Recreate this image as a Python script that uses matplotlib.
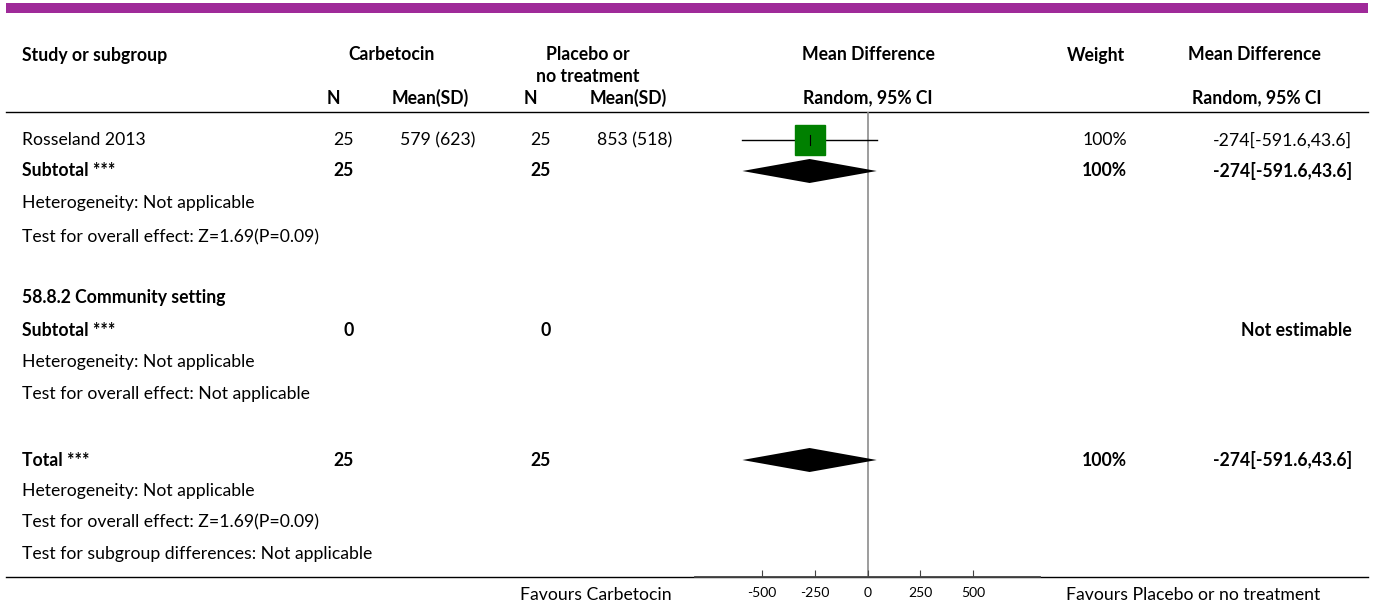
import matplotlib.pyplot as plt
from matplotlib.patches import Polygon, Rectangle

# --- Datos ---
studies = ["Rosseland 2013"]
carb_n = [25]
carb_mean = [579]
carb_sd = [623]
plac_n = [25]
plac_mean = [853]
plac_sd = [518]
md = [-274]
ci_lo = [-591.6]
ci_hi = [43.6]
weight = [100]

sub1_n = [25, 25]
sub1_est = [-274, -591.6, 43.6]
sub2_n = [0, 0]
total_n = [25, 25]
total_est = [-274, -591.6, 43.6]

ticks = [-500, -250, 0, 250, 500]
tick_labels = ["-500", "-250", "0", "250", "500"]

plt.rcParams['font.family'] = ['Lato', 'DejaVu Sans']
FS = 12.7

W, H = 1375, 606
fig = plt.figure(figsize=(W / 100, H / 100), dpi=100)
ax = fig.add_axes([0, 0, 1, 1])
ax.set_xlim(0, W)
ax.set_ylim(H, 0)
ax.axis('off')

# rules
ax.add_patch(Rectangle((6, 3), 1362, 10, color='#9F2A99', lw=0))
ax.plot([6, 1368], [112, 112], color='black', lw=1)
ax.plot([6, 1368], [577, 577], color='black', lw=1)

def txt(x, y, s, ha='left', bold=False):
    ax.text(x, y, s, ha=ha, va='center', fontsize=FS,
            fontweight='bold' if bold else 'normal', color='black')

# header
txt(22, 55, "Study or subgroup", bold=True)
txt(392, 55, "Carbetocin", ha='center', bold=True)
txt(588, 55, "Placebo or", ha='center', bold=True)
txt(588, 77, "no treatment", ha='center', bold=True)
txt(868, 55, "Mean Difference", ha='center', bold=True)
txt(1096, 55, "Weight", ha='center', bold=True)
txt(1254, 55, "Mean Difference", ha='center', bold=True)
txt(333, 98, "N", ha='center', bold=True)
txt(430, 98, "Mean(SD)", ha='center', bold=True)
txt(530, 98, "N", ha='center', bold=True)
txt(628, 98, "Mean(SD)", ha='center', bold=True)
txt(868, 98, "Random, 95% CI", ha='center', bold=True)
txt(1257, 98, "Random, 95% CI", ha='center', bold=True)

# study row
y_study = 140
for i, name in enumerate(studies):
    y = y_study + i * 32
    txt(22, y, name)
    txt(354, y, f"{carb_n[i]}", ha='right')
    txt(475, y, f"{carb_mean[i]} ({carb_sd[i]})", ha='right')
    txt(551, y, f"{plac_n[i]}", ha='right')
    txt(672, y, f"{plac_mean[i]} ({plac_sd[i]})", ha='right')
    txt(1127, y, f"{weight[i]}%", ha='right')
    txt(1352, y, f"{md[i]}[{ci_lo[i]},{ci_hi[i]}]", ha='right')

# subgroup 1
txt(22, 171, "Subtotal ***", bold=True)
txt(354, 171, f"{sub1_n[0]}", ha='right', bold=True)
txt(551, 171, f"{sub1_n[1]}", ha='right', bold=True)
txt(1127, 171, "100%", ha='right', bold=True)
txt(1352, 171, f"{sub1_est[0]}[{sub1_est[1]},{sub1_est[2]}]", ha='right', bold=True)
txt(22, 203, "Heterogeneity: Not applicable")
txt(22, 237, "Test for overall effect: Z=1.69(P=0.09)")

# subgroup 2
txt(22, 298, "58.8.2 Community setting", bold=True)
txt(22, 330, "Subtotal ***", bold=True)
txt(354, 330, f"{sub2_n[0]}", ha='right', bold=True)
txt(551, 330, f"{sub2_n[1]}", ha='right', bold=True)
txt(1352, 330, "Not estimable", ha='right', bold=True)
txt(22, 362, "Heterogeneity: Not applicable")
txt(22, 394, "Test for overall effect: Not applicable")

# total
txt(22, 460, "Total ***", bold=True)
txt(354, 460, f"{total_n[0]}", ha='right', bold=True)
txt(551, 460, f"{total_n[1]}", ha='right', bold=True)
txt(1127, 460, "100%", ha='right', bold=True)
txt(1352, 460, f"{total_est[0]}[{total_est[1]},{total_est[2]}]", ha='right', bold=True)
txt(22, 491, "Heterogeneity: Not applicable")
txt(22, 522, "Test for overall effect: Z=1.69(P=0.09)")
txt(22, 554, "Test for subgroup differences: Not applicable")

txt(596, 595, "Favours Carbetocin", ha='center')
txt(1193, 595, "Favours Placebo or no treatment", ha='center')

# --- forest panel ---
fx0, fx1, fy0, fy1 = 695, 1040, 112, 577
fa = fig.add_axes([fx0 / W, (H - fy1) / H, (fx1 - fx0) / W, (fy1 - fy0) / H])
fa.set_xlim(-816, 816)
fa.set_ylim(fy1, fy0)
fa.patch.set_alpha(0)
for s in ['top', 'left', 'right']:
    fa.spines[s].set_visible(False)
fa.spines['bottom'].set_color('#444444')
fa.spines['bottom'].set_linewidth(1.3)
fa.set_yticks([])
fa.set_xticks(ticks)
fa.set_xticklabels(tick_labels, fontsize=10)
fa.tick_params(axis='x', direction='in', length=5, pad=7, color='#444444')

fa.axvline(0, color='#8c8c8c', lw=1.2, zorder=1)

for i in range(len(studies)):
    y = y_study + i * 32
    fa.plot([ci_lo[i], ci_hi[i]], [y, y], color='black', lw=1, zorder=2)
    fa.plot(md[i], y, marker='s', ms=22, color='#008000', mec='#008000', zorder=3)
    fa.plot([md[i], md[i]], [y - 5, y + 5], color='black', lw=0.8, zorder=4)

def diamond(est, y, h=12):
    pts = [(est[1], y), (est[0], y - h), (est[2], y), (est[0], y + h)]
    fa.add_patch(Polygon(pts, closed=True, color='black', lw=0, zorder=3))

diamond(sub1_est, 171)
diamond(total_est, 460)

fig.savefig("out.png", dpi=100)
